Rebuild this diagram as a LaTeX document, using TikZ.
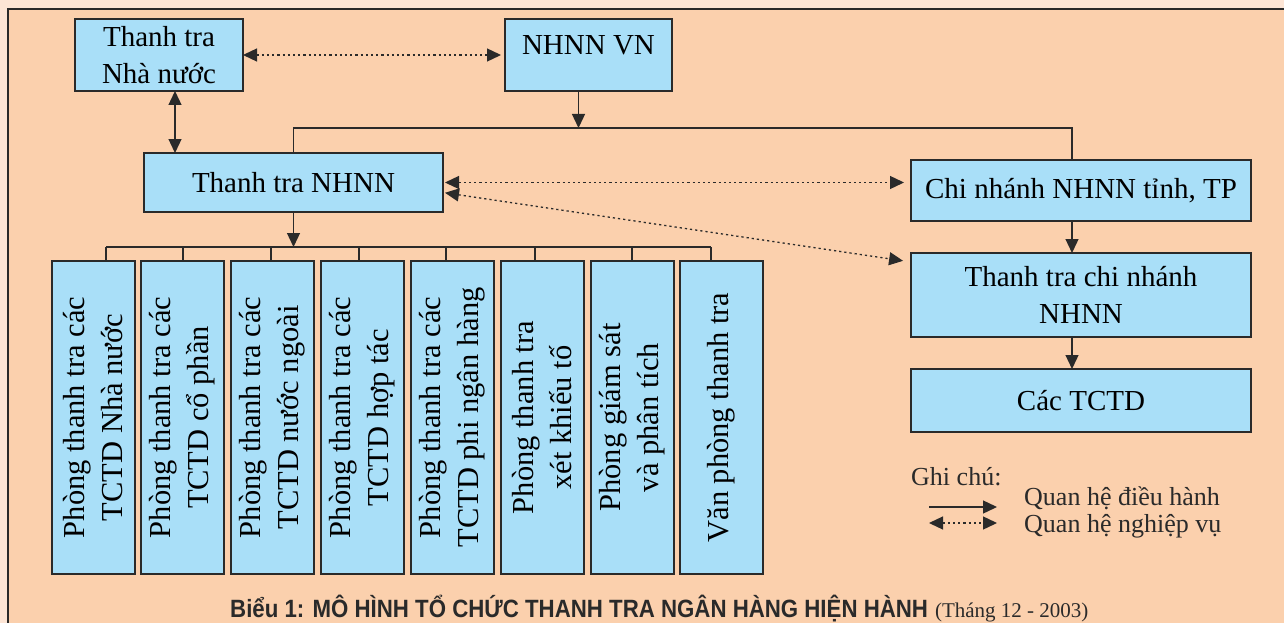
\documentclass[tikz,border=0pt]{standalone}
\usepackage{fontspec}
\setmainfont{Liberation Serif}
\newfontfamily\capfont[FakeStretch=0.89]{Liberation Sans}
\usetikzlibrary{arrows.meta,calc}
\definecolor{margincol}{HTML}{FDE5D5}
\definecolor{panelcol}{HTML}{FBD0AD}
\definecolor{boxblue}{HTML}{A9DFF8}
\definecolor{ink}{HTML}{2A2A2A}
\tikzset{
  box/.style={draw=ink, fill=boxblue, line width=1.3pt, inner sep=0pt, outer sep=0pt,
              anchor=north west, align=center, font=\fontsize{29}{37}\selectfont},
  colbox/.style={draw=ink, fill=boxblue, line width=1.3pt, inner sep=0pt, outer sep=0pt,
              rotate=90, minimum width=313pt, minimum height=83pt, align=center,
              font=\fontsize{30.5}{38}\selectfont},
  conn/.style={draw=ink, line width=1.3pt},
  arr/.style={conn, -{Triangle[length=14pt,width=13pt]}},
  darr/.style={conn, {Triangle[length=14pt,width=13pt]}-{Triangle[length=14pt,width=13pt]}},
  dotarr/.style={conn, dash pattern=on 2.2pt off 3pt, {Triangle[length=14pt,width=13pt]}-{Triangle[length=14pt,width=13pt]}},
  legtext/.style={anchor=base west, inner sep=0pt, font=\fontsize{26}{30}\selectfont, text=ink},
}
\begin{document}
\begin{tikzpicture}[x=1pt,y=-1pt]
\useasboundingbox (0,0) rectangle (1284,623);
\fill[margincol] (0,0) rectangle (1284,623);
\fill[panelcol] (8,9) rectangle (1284,623);
\draw[ink, line width=1.5pt] (8,623) -- (8,9) -- (1284,9);

% top boxes
\node[box, minimum width=168pt, minimum height=72pt] (ttnn) at (75,19) {Thanh tra\\Nhà nước};
\node[box, minimum width=167pt, minimum height=72pt, text depth=19pt] (vn) at (505,19) {NHNN VN};
\node[box, minimum width=299pt, minimum height=59pt] (tt) at (144,153) {Thanh tra NHNN};
\node[box, minimum width=340pt, minimum height=61pt] (cn) at (911,160) {Chi nhánh NHNN tỉnh, TP};
\node[box, minimum width=340pt, minimum height=84pt] (tcn) at (911,253) {Thanh tra chi nhánh\\NHNN};
\node[box, minimum width=340pt, minimum height=63pt] (tctd) at (911,369) {Các TCTD};

% columns
\node[colbox] (c1) at (93.5,417.5) {Phòng thanh tra các\\TCTD Nhà nước};
\node[colbox] (c2) at (182.5,417.5) {Phòng thanh tra các\\TCTD cổ phần};
\node[colbox] (c3) at (272.5,417.5) {Phòng thanh tra các\\TCTD nước ngoài};
\node[colbox] (c4) at (362.5,417.5) {Phòng thanh tra các\\TCTD hợp tác};
\node[colbox] (c5) at (452.5,417.5) {Phòng thanh tra các\\TCTD phi ngân hàng};
\node[colbox] (c6) at (542.5,417.5) {Phòng thanh tra\\xét khiếu tố};
\node[colbox] (c7) at (632.5,417.5) {Phòng giám sát\\và phân tích};
\node[colbox] (c8) at (721.5,417.5) {Văn phòng thanh tra};

% helper coordinates
\coordinate (hl) at (577,128);
\coordinate (busL) at (106,247);
\coordinate (busR) at (711,247);

% NHNN VN -> top bar
\draw[arr] ([xshift=-10pt]vn.south) -- ([xshift=-10pt]vn.south |- hl);
\draw[conn] (tt.north) -- (tt.north |- hl) -- ([xshift=-9pt]cn.north |- hl) -- ([xshift=-9pt]cn.north);

% Thanh tra Nha nuoc <-> Thanh tra NHNN
\draw[darr] ([xshift=16pt]ttnn.south) -- ([xshift=16pt]ttnn.south |- tt.north);

% dotted relations
\draw[dotarr, shorten >=4pt] (ttnn.east) -- (vn.west);
\draw[dotarr, shorten <=2pt, shorten >=7pt] (tt.east) -- (tt.east -| cn.west);
\draw[dotarr, shorten <=2pt, shorten >=8pt] ([yshift=-10pt]tt.east) -- ([yshift=-9pt]tcn.north west);

% right chain
\draw[arr] ([xshift=-9pt]cn.south) -- ([xshift=-9pt]cn.south |- tcn.north);
\draw[arr] ([xshift=-9pt]tcn.south) -- ([xshift=-9pt]tcn.south |- tctd.north);

% bus
\draw[arr] (tt.south) -- (tt.south |- busL);
\draw[conn] (busL) -- (busR);
\foreach \i/\dx in {1/12.5,2/0.5,3/-1.5,4/-3.5,5/-6.5,6/-7.5,7/-0.5,8/-10.5}{
  \draw[conn] ([xshift=\dx pt]c\i.east) -- ([xshift=\dx pt]c\i.east |- busL);
}

% legend
\node[legtext] (ghichu) at (911,485) {Ghi chú:};
\coordinate (l1a) at (929,507);
\coordinate (l1b) at (997,507);
\coordinate (l2a) at (929,523);
\coordinate (l2b) at (997,523);
\draw[arr] (l1a) -- (l1b);
\draw[dotarr] (l2a) -- (l2b);
\node[legtext] (leg1) at (1024,505) {Quan hệ điều hành};
\node[legtext] (leg2) at (1024,532) {Quan hệ nghiệp vụ};

% caption
\node[anchor=base west, inner sep=0pt, text=ink] (cap) at (230,617)
  {{\capfont\bfseries\fontsize{25}{28}\selectfont Biểu 1: MÔ HÌNH TỔ CHỨC THANH TRA NGÂN HÀNG HIỆN HÀNH}\hspace{7pt}{\fontsize{21}{24}\selectfont (Tháng 12 - 2003)}};
\end{tikzpicture}
\end{document}
